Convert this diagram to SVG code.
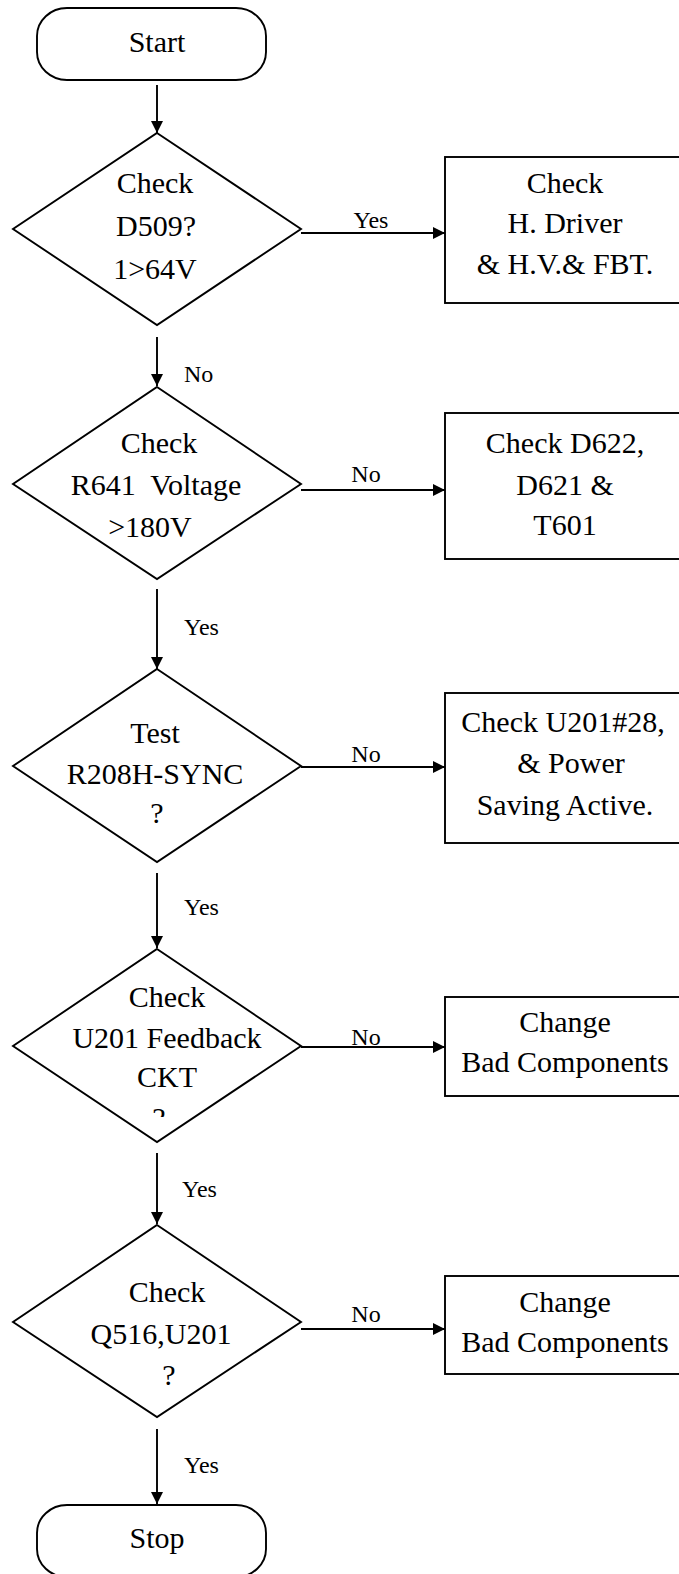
<svg xmlns="http://www.w3.org/2000/svg" width="679" height="1574" viewBox="0 0 679 1574">
<style>
.shape{fill:#fff;stroke:#000;stroke-width:1.9}
.t{font-family:"Liberation Serif","Times New Roman",serif;font-size:30px;fill:#000;text-anchor:middle}
.l{font-family:"Liberation Serif","Times New Roman",serif;font-size:24px;fill:#000}
.c{stroke:#000;stroke-width:1.9;fill:none;marker-end:url(#ah)}
</style>
<defs>
<marker id="ah" markerUnits="userSpaceOnUse" markerWidth="12" markerHeight="12" viewBox="0 0 12 12" refX="12" refY="6" orient="auto">
<path d="M0,0 L12,6 L0,12 Z" fill="#000"/>
</marker>
<clipPath id="clip4"><rect x="0" y="940" width="320" height="177"/></clipPath>
</defs>
<rect width="679" height="1574" fill="#fff"/>
<g id="connectors">
<line class="c" x1="157" y1="85" x2="157" y2="133"/>
<line class="c" x1="157" y1="337" x2="157" y2="386"/>
<line class="c" x1="157" y1="589" x2="157" y2="669"/>
<line class="c" x1="157" y1="873" x2="157" y2="948"/>
<line class="c" x1="157" y1="1153" x2="157" y2="1224"/>
<line class="c" x1="157" y1="1429" x2="157" y2="1504"/>
<line class="c" x1="301" y1="233" x2="445" y2="233"/>
<line class="c" x1="301" y1="490" x2="445" y2="490"/>
<line class="c" x1="301" y1="767" x2="445" y2="767"/>
<line class="c" x1="301" y1="1047" x2="445" y2="1047"/>
<line class="c" x1="301" y1="1329" x2="445" y2="1329"/>
<text class="l" x="371" y="228" text-anchor="middle">Yes</text>
<text class="l" x="184" y="382">No</text>
<text class="l" x="366" y="482" text-anchor="middle">No</text>
<text class="l" x="184" y="635">Yes</text>
<text class="l" x="366" y="762" text-anchor="middle">No</text>
<text class="l" x="184" y="915">Yes</text>
<text class="l" x="366" y="1045" text-anchor="middle">No</text>
<text class="l" x="182" y="1197">Yes</text>
<text class="l" x="366" y="1322" text-anchor="middle">No</text>
<text class="l" x="184" y="1473">Yes</text>
</g>
<g id="start">
<rect class="shape" x="37" y="8" width="229" height="72" rx="30" ry="28"/>
<text class="t" x="157" y="52">Start</text>
</g>
<g id="d1">
<polygon class="shape" points="157,133 301,229 157,325 13,229"/>
<text class="t" x="155" y="193">Check</text>
<text class="t" x="156" y="236">D509?</text>
<text class="t" x="155" y="279">1&gt;64V</text>
</g>
<g id="b1">
<rect class="shape" x="445" y="157" width="240" height="146"/>
<text class="t" x="565" y="193">Check</text>
<text class="t" x="565" y="233">H. Driver</text>
<text class="t" x="565" y="274">&amp; H.V.&amp; FBT.</text>
</g>
<g id="d2">
<polygon class="shape" points="157,387 301,484 157,579 13,484"/>
<text class="t" x="159" y="453">Check</text>
<text class="t" x="156" y="495" xml:space="preserve">R641  Voltage</text>
<text class="t" x="150" y="537">&gt;180V</text>
</g>
<g id="b2">
<rect class="shape" x="445" y="413" width="240" height="146"/>
<text class="t" x="565" y="453">Check D622,</text>
<text class="t" x="565" y="495">D621 &amp;</text>
<text class="t" x="565" y="535">T601</text>
</g>
<g id="d3">
<polygon class="shape" points="157,669 301,766 157,862 13,766"/>
<text class="t" x="155" y="743">Test</text>
<text class="t" x="155" y="784">R208H-SYNC</text>
<text class="t" x="157" y="823">?</text>
</g>
<g id="b3">
<rect class="shape" x="445" y="693" width="240" height="150"/>
<text class="t" x="563" y="732">Check U201#28,</text>
<text class="t" x="571" y="773">&amp; Power</text>
<text class="t" x="565" y="815">Saving Active.</text>
</g>
<g id="d4">
<polygon class="shape" points="157,949 301,1046 157,1142 13,1046"/>
<text class="t" x="167" y="1007">Check</text>
<text class="t" x="167" y="1048">U201 Feedback</text>
<text class="t" x="167" y="1087">CKT</text>
<text class="t" x="159" y="1128" clip-path="url(#clip4)">?</text>
</g>
<g id="b4">
<rect class="shape" x="445" y="997" width="240" height="99"/>
<text class="t" x="565" y="1032">Change</text>
<text class="t" x="565" y="1072">Bad Components</text>
</g>
<g id="d5">
<polygon class="shape" points="157,1225 301,1322 157,1417 13,1322"/>
<text class="t" x="167" y="1302">Check</text>
<text class="t" x="161" y="1344">Q516,U201</text>
<text class="t" x="169" y="1385">?</text>
</g>
<g id="b5">
<rect class="shape" x="445" y="1276" width="240" height="98"/>
<text class="t" x="565" y="1312">Change</text>
<text class="t" x="565" y="1352">Bad Components</text>
</g>
<g id="stop">
<rect class="shape" x="37" y="1505" width="229" height="72" rx="30" ry="28"/>
<text class="t" x="157" y="1548">Stop</text>
</g>
</svg>
